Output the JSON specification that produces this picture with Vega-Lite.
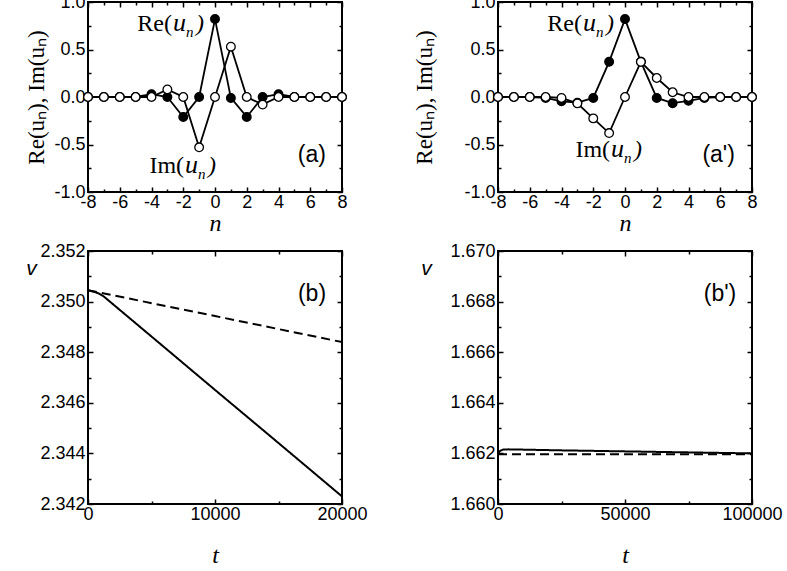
{
  "$schema": "https://vega.github.io/schema/vega-lite/v6.json",
  "autosize": "none",
  "padding": {"left": 88, "top": 2, "right": 699, "bottom": 569},
  "background": "white",
  "config": {
    "locale": {"number": {"decimal": ".", "thousands": ",", "grouping": [3], "currency": ["$", ""], "minus": "-"}},
    "view": {"stroke": "black", "strokeWidth": 2},
    "axis": {"domain": false, "grid": false, "tickColor": "black", "tickWidth": 1.5, "labelColor": "black", "labelFont": "Liberation Sans", "labelFontSize": 18, "titleColor": "black", "labelFlush": false, "labelOverlap": false},
    "text": {"color": "black"}
  },
  "spacing": {"row": 59, "column": 156},
  "bounds": "flush",
  "columns": 2,
  "datasets": {
    "a": [
      {"part": "Re", "n": -8, "value": 0}, {"part": "Re", "n": -7, "value": 0}, {"part": "Re", "n": -6, "value": 0}, {"part": "Re", "n": -5, "value": 0},
      {"part": "Re", "n": -4, "value": 0.03}, {"part": "Re", "n": -3, "value": 0}, {"part": "Re", "n": -2, "value": -0.21}, {"part": "Re", "n": -1, "value": 0},
      {"part": "Re", "n": 0, "value": 0.82}, {"part": "Re", "n": 1, "value": -0.01}, {"part": "Re", "n": 2, "value": -0.21}, {"part": "Re", "n": 3, "value": 0},
      {"part": "Re", "n": 4, "value": 0.03}, {"part": "Re", "n": 5, "value": 0}, {"part": "Re", "n": 6, "value": 0}, {"part": "Re", "n": 7, "value": 0}, {"part": "Re", "n": 8, "value": 0},
      {"part": "Im", "n": -8, "value": 0}, {"part": "Im", "n": -7, "value": 0}, {"part": "Im", "n": -6, "value": 0}, {"part": "Im", "n": -5, "value": 0},
      {"part": "Im", "n": -4, "value": 0}, {"part": "Im", "n": -3, "value": 0.08}, {"part": "Im", "n": -2, "value": 0}, {"part": "Im", "n": -1, "value": -0.53},
      {"part": "Im", "n": 0, "value": 0}, {"part": "Im", "n": 1, "value": 0.53}, {"part": "Im", "n": 2, "value": 0}, {"part": "Im", "n": 3, "value": -0.08},
      {"part": "Im", "n": 4, "value": 0}, {"part": "Im", "n": 5, "value": 0}, {"part": "Im", "n": 6, "value": 0}, {"part": "Im", "n": 7, "value": 0}, {"part": "Im", "n": 8, "value": 0}
    ],
    "ap": [
      {"part": "Re", "n": -8, "value": 0}, {"part": "Re", "n": -7, "value": 0}, {"part": "Re", "n": -6, "value": 0}, {"part": "Re", "n": -5, "value": -0.01},
      {"part": "Re", "n": -4, "value": -0.045}, {"part": "Re", "n": -3, "value": -0.06}, {"part": "Re", "n": -2, "value": -0.01}, {"part": "Re", "n": -1, "value": 0.37},
      {"part": "Re", "n": 0, "value": 0.82}, {"part": "Re", "n": 1, "value": 0.37}, {"part": "Re", "n": 2, "value": -0.01}, {"part": "Re", "n": 3, "value": -0.065},
      {"part": "Re", "n": 4, "value": -0.04}, {"part": "Re", "n": 5, "value": -0.01}, {"part": "Re", "n": 6, "value": 0}, {"part": "Re", "n": 7, "value": 0}, {"part": "Re", "n": 8, "value": 0},
      {"part": "Im", "n": -8, "value": 0}, {"part": "Im", "n": -7, "value": 0}, {"part": "Im", "n": -6, "value": 0}, {"part": "Im", "n": -5, "value": 0},
      {"part": "Im", "n": -4, "value": -0.01}, {"part": "Im", "n": -3, "value": -0.067}, {"part": "Im", "n": -2, "value": -0.225}, {"part": "Im", "n": -1, "value": -0.38},
      {"part": "Im", "n": 0, "value": 0}, {"part": "Im", "n": 1, "value": 0.37}, {"part": "Im", "n": 2, "value": 0.2}, {"part": "Im", "n": 3, "value": 0.05},
      {"part": "Im", "n": 4, "value": 0}, {"part": "Im", "n": 5, "value": 0}, {"part": "Im", "n": 6, "value": 0}, {"part": "Im", "n": 7, "value": 0}, {"part": "Im", "n": 8, "value": 0}
    ],
    "b": [
      {"style": "solid", "t": 0, "v": 2.35045}, {"style": "solid", "t": 400, "v": 2.3504}, {"style": "solid", "t": 800, "v": 2.35033}, {"style": "solid", "t": 1200, "v": 2.35022},
      {"style": "solid", "t": 5000, "v": 2.34862}, {"style": "solid", "t": 10000, "v": 2.34651}, {"style": "solid", "t": 15000, "v": 2.34441}, {"style": "solid", "t": 20000, "v": 2.3423},
      {"style": "dashed", "t": 0, "v": 2.35045}, {"style": "dashed", "t": 10000, "v": 2.34943}, {"style": "dashed", "t": 20000, "v": 2.3484}
    ],
    "bp": [
      {"style": "solid", "t": 0, "v": 1.662}, {"style": "solid", "t": 800, "v": 1.6621}, {"style": "solid", "t": 2000, "v": 1.66215}, {"style": "solid", "t": 4000, "v": 1.66216},
      {"style": "solid", "t": 25000, "v": 1.66212}, {"style": "solid", "t": 50000, "v": 1.66208}, {"style": "solid", "t": 75000, "v": 1.66204}, {"style": "solid", "t": 100000, "v": 1.662},
      {"style": "dashed", "t": 0, "v": 1.66197}, {"style": "dashed", "t": 50000, "v": 1.66197}, {"style": "dashed", "t": 100000, "v": 1.66197}
    ],
    "lab": [
      {"panel": "a", "pre": "Re(", "n": -2.71, "value": 0.7},
      {"panel": "a", "pre": "Im(", "n": -1.95, "value": -0.8},
      {"panel": "ap", "pre": "Re(", "n": -2.71, "value": 0.7},
      {"panel": "ap", "pre": "Im(", "n": -0.94, "value": -0.63}
    ],
    "plab": [
      {"panel": "a", "label": "(a)", "n": 6.1, "value": -0.61},
      {"panel": "ap", "label": "(a')", "n": 5.9, "value": -0.61}
    ],
    "blab": [
      {"panel": "b", "label": "(b)", "t": 17640, "v": 2.3503}
    ],
    "bplab": [
      {"panel": "bp", "label": "(b')", "t": 87400, "v": 1.6683}
    ]
  },
  "concat": [
    {
      "width": 254, "height": 190,
      "layer": [
        {"data": {"name": "a"}, "mark": {"type": "line", "color": "black", "strokeWidth": 1.8},
         "encoding": {
           "x": {"field": "n", "type": "quantitative", "scale": {"domain": [-8, 8], "nice": false, "zero": false},
                 "axis": {"orient": "bottom", "values": [-8,-7,-6,-5,-4,-3,-2,-1,0,1,2,3,4,5,6,7,8], "labelExpr": "datum.value % 2 === 0 ? datum.label : ''",
                          "tickSize": {"condition": {"test": "datum.value % 2 === 0", "value": -5}, "value": -3}, "labelPadding": 6,
                          "title": "n", "titleFont": "Liberation Serif", "titleFontStyle": "italic", "titleFontSize": 24, "titleFontWeight": "normal",
                          "titleX": 127, "titleY": 38, "titleAlign": "center", "titleBaseline": "alphabetic"}},
           "y": {"field": "value", "type": "quantitative", "scale": {"domain": [-1, 1], "nice": false},
                 "axis": {"orient": "left", "values": [-1,-0.75,-0.5,-0.25,0,0.25,0.5,0.75,1], "format": ".1f",
                          "labelExpr": "abs(datum.value*2 - round(datum.value*2)) < 0.000001 ? datum.label : ''",
                          "tickSize": {"condition": {"test": "abs(datum.value*2 - round(datum.value*2)) < 0.000001", "value": -5}, "value": -3}, "labelPadding": 8,
                          "title": "Re(uₙ), Im(uₙ)", "titleFont": "Liberation Serif", "titleFontSize": 23, "titleFontWeight": "normal",
                          "titleX": -52, "titleY": 95, "titleAngle": 270, "titleAlign": "center", "titleBaseline": "middle"}},
           "detail": {"field": "part"}}},
        {"data": {"name": "a"}, "mark": {"type": "point", "filled": true, "stroke": "black", "strokeWidth": 1.3, "size": 75, "opacity": 1},
         "encoding": {
           "x": {"field": "n", "type": "quantitative", "scale": {"domain": [-8, 8], "nice": false, "zero": false},
                 "axis": {"orient": "top", "values": [-8,-7,-6,-5,-4,-3,-2,-1,0,1,2,3,4,5,6,7,8], "labels": false, "title": null,
                          "tickSize": {"condition": {"test": "datum.value % 2 === 0", "value": -5}, "value": -3}}},
           "y": {"field": "value", "type": "quantitative", "scale": {"domain": [-1, 1], "nice": false},
                 "axis": {"orient": "right", "values": [-1,-0.75,-0.5,-0.25,0,0.25,0.5,0.75,1], "labels": false, "title": null,
                          "tickSize": {"condition": {"test": "abs(datum.value*2 - round(datum.value*2)) < 0.000001", "value": -5}, "value": -3}}},
           "fill": {"field": "part", "type": "nominal", "scale": {"domain": ["Re", "Im"], "range": ["black", "white"]}, "legend": null}}},
        {"data": {"name": "lab"}, "transform": [{"filter": {"field": "panel", "equal": "a"}}],
         "mark": {"type": "text", "align": "right", "baseline": "alphabetic", "font": "Liberation Serif", "fontSize": 24},
         "encoding": {"x": {"field": "n", "type": "quantitative", "scale": {"domain": [-8, 8], "nice": false, "zero": false}, "axis": null},
                      "y": {"field": "value", "type": "quantitative", "scale": {"domain": [-1, 1], "nice": false}, "axis": null},
                      "text": {"field": "pre"}}},
        {"data": {"name": "lab"}, "transform": [{"filter": {"field": "panel", "equal": "a"}}],
         "mark": {"type": "text", "align": "left", "baseline": "alphabetic", "font": "Liberation Serif", "fontStyle": "italic", "fontSize": 26, "dx": 1},
         "encoding": {"x": {"field": "n", "type": "quantitative", "scale": {"domain": [-8, 8], "nice": false, "zero": false}, "axis": null},
                      "y": {"field": "value", "type": "quantitative", "scale": {"domain": [-1, 1], "nice": false}, "axis": null},
                      "text": {"value": "u"}}},
        {"data": {"name": "lab"}, "transform": [{"filter": {"field": "panel", "equal": "a"}}],
         "mark": {"type": "text", "align": "left", "baseline": "alphabetic", "font": "Liberation Serif", "fontStyle": "italic", "fontSize": 15, "dx": 14, "dy": 6},
         "encoding": {"x": {"field": "n", "type": "quantitative", "scale": {"domain": [-8, 8], "nice": false, "zero": false}, "axis": null},
                      "y": {"field": "value", "type": "quantitative", "scale": {"domain": [-1, 1], "nice": false}, "axis": null},
                      "text": {"value": "n"}}},
        {"data": {"name": "lab"}, "transform": [{"filter": {"field": "panel", "equal": "a"}}],
         "mark": {"type": "text", "align": "left", "baseline": "alphabetic", "font": "Liberation Serif", "fontStyle": "italic", "fontSize": 24, "dx": 24},
         "encoding": {"x": {"field": "n", "type": "quantitative", "scale": {"domain": [-8, 8], "nice": false, "zero": false}, "axis": null},
                      "y": {"field": "value", "type": "quantitative", "scale": {"domain": [-1, 1], "nice": false}, "axis": null},
                      "text": {"value": ")"}}},
        {"data": {"name": "plab"}, "transform": [{"filter": {"field": "panel", "equal": "a"}}],
         "mark": {"type": "text", "align": "center", "baseline": "middle", "font": "Liberation Sans", "fontSize": 23},
         "encoding": {"x": {"field": "n", "type": "quantitative", "scale": {"domain": [-8, 8], "nice": false, "zero": false}, "axis": null},
                      "y": {"field": "value", "type": "quantitative", "scale": {"domain": [-1, 1], "nice": false}, "axis": null},
                      "text": {"field": "label"}}}
      ],
      "resolve": {"axis": {"x": "independent", "y": "independent"}}
    },
    {
      "width": 254, "height": 190,
      "layer": [
        {"data": {"name": "ap"}, "mark": {"type": "line", "color": "black", "strokeWidth": 1.8},
         "encoding": {
           "x": {"field": "n", "type": "quantitative", "scale": {"domain": [-8, 8], "nice": false, "zero": false},
                 "axis": {"orient": "bottom", "values": [-8,-7,-6,-5,-4,-3,-2,-1,0,1,2,3,4,5,6,7,8], "labelExpr": "datum.value % 2 === 0 ? datum.label : ''",
                          "tickSize": {"condition": {"test": "datum.value % 2 === 0", "value": -5}, "value": -3}, "labelPadding": 6,
                          "title": "n", "titleFont": "Liberation Serif", "titleFontStyle": "italic", "titleFontSize": 24, "titleFontWeight": "normal",
                          "titleX": 127, "titleY": 38, "titleAlign": "center", "titleBaseline": "alphabetic"}},
           "y": {"field": "value", "type": "quantitative", "scale": {"domain": [-1, 1], "nice": false},
                 "axis": {"orient": "left", "values": [-1,-0.75,-0.5,-0.25,0,0.25,0.5,0.75,1], "format": ".1f",
                          "labelExpr": "abs(datum.value*2 - round(datum.value*2)) < 0.000001 ? datum.label : ''",
                          "tickSize": {"condition": {"test": "abs(datum.value*2 - round(datum.value*2)) < 0.000001", "value": -5}, "value": -3}, "labelPadding": 8,
                          "title": "Re(uₙ), Im(uₙ)", "titleFont": "Liberation Serif", "titleFontSize": 23, "titleFontWeight": "normal",
                          "titleX": -74, "titleY": 95, "titleAngle": 270, "titleAlign": "center", "titleBaseline": "middle"}},
           "detail": {"field": "part"}}},
        {"data": {"name": "ap"}, "mark": {"type": "point", "filled": true, "stroke": "black", "strokeWidth": 1.3, "size": 75, "opacity": 1},
         "encoding": {
           "x": {"field": "n", "type": "quantitative", "scale": {"domain": [-8, 8], "nice": false, "zero": false},
                 "axis": {"orient": "top", "values": [-8,-7,-6,-5,-4,-3,-2,-1,0,1,2,3,4,5,6,7,8], "labels": false, "title": null,
                          "tickSize": {"condition": {"test": "datum.value % 2 === 0", "value": -5}, "value": -3}}},
           "y": {"field": "value", "type": "quantitative", "scale": {"domain": [-1, 1], "nice": false},
                 "axis": {"orient": "right", "values": [-1,-0.75,-0.5,-0.25,0,0.25,0.5,0.75,1], "labels": false, "title": null,
                          "tickSize": {"condition": {"test": "abs(datum.value*2 - round(datum.value*2)) < 0.000001", "value": -5}, "value": -3}}},
           "fill": {"field": "part", "type": "nominal", "scale": {"domain": ["Re", "Im"], "range": ["black", "white"]}, "legend": null}}},
        {"data": {"name": "lab"}, "transform": [{"filter": {"field": "panel", "equal": "ap"}}],
         "mark": {"type": "text", "align": "right", "baseline": "alphabetic", "font": "Liberation Serif", "fontSize": 24},
         "encoding": {"x": {"field": "n", "type": "quantitative", "scale": {"domain": [-8, 8], "nice": false, "zero": false}, "axis": null},
                      "y": {"field": "value", "type": "quantitative", "scale": {"domain": [-1, 1], "nice": false}, "axis": null},
                      "text": {"field": "pre"}}},
        {"data": {"name": "lab"}, "transform": [{"filter": {"field": "panel", "equal": "ap"}}],
         "mark": {"type": "text", "align": "left", "baseline": "alphabetic", "font": "Liberation Serif", "fontStyle": "italic", "fontSize": 26, "dx": 1},
         "encoding": {"x": {"field": "n", "type": "quantitative", "scale": {"domain": [-8, 8], "nice": false, "zero": false}, "axis": null},
                      "y": {"field": "value", "type": "quantitative", "scale": {"domain": [-1, 1], "nice": false}, "axis": null},
                      "text": {"value": "u"}}},
        {"data": {"name": "lab"}, "transform": [{"filter": {"field": "panel", "equal": "ap"}}],
         "mark": {"type": "text", "align": "left", "baseline": "alphabetic", "font": "Liberation Serif", "fontStyle": "italic", "fontSize": 15, "dx": 14, "dy": 6},
         "encoding": {"x": {"field": "n", "type": "quantitative", "scale": {"domain": [-8, 8], "nice": false, "zero": false}, "axis": null},
                      "y": {"field": "value", "type": "quantitative", "scale": {"domain": [-1, 1], "nice": false}, "axis": null},
                      "text": {"value": "n"}}},
        {"data": {"name": "lab"}, "transform": [{"filter": {"field": "panel", "equal": "ap"}}],
         "mark": {"type": "text", "align": "left", "baseline": "alphabetic", "font": "Liberation Serif", "fontStyle": "italic", "fontSize": 24, "dx": 24},
         "encoding": {"x": {"field": "n", "type": "quantitative", "scale": {"domain": [-8, 8], "nice": false, "zero": false}, "axis": null},
                      "y": {"field": "value", "type": "quantitative", "scale": {"domain": [-1, 1], "nice": false}, "axis": null},
                      "text": {"value": ")"}}},
        {"data": {"name": "plab"}, "transform": [{"filter": {"field": "panel", "equal": "ap"}}],
         "mark": {"type": "text", "align": "center", "baseline": "middle", "font": "Liberation Sans", "fontSize": 23},
         "encoding": {"x": {"field": "n", "type": "quantitative", "scale": {"domain": [-8, 8], "nice": false, "zero": false}, "axis": null},
                      "y": {"field": "value", "type": "quantitative", "scale": {"domain": [-1, 1], "nice": false}, "axis": null},
                      "text": {"field": "label"}}}
      ],
      "resolve": {"axis": {"x": "independent", "y": "independent"}}
    },
    {
      "width": 254, "height": 253,
      "layer": [
        {"data": {"name": "b"}, "mark": {"type": "line", "color": "black", "strokeWidth": 2},
         "encoding": {
           "x": {"field": "t", "type": "quantitative", "scale": {"domain": [0, 20000], "nice": false, "zero": false},
                 "axis": {"orient": "bottom", "values": [0, 5000, 10000, 15000, 20000], "format": "d", "labelExpr": "datum.value % 10000 === 0 ? datum.label : ''",
                          "tickSize": {"condition": {"test": "datum.value % 10000 === 0", "value": -5}, "value": -3}, "labelPadding": 6,
                          "title": "t", "titleFont": "Liberation Serif", "titleFontStyle": "italic", "titleFontSize": 24, "titleFontWeight": "normal",
                          "titleX": 127, "titleY": 58, "titleAlign": "center", "titleBaseline": "alphabetic"}},
           "y": {"field": "v", "type": "quantitative", "scale": {"domain": [2.342, 2.352], "nice": false, "zero": false},
                 "axis": {"orient": "left", "values": [2.342, 2.343, 2.344, 2.345, 2.346, 2.347, 2.348, 2.349, 2.35, 2.351, 2.352], "format": ".3f",
                          "labelExpr": "round(datum.value*1000) % 2 === 0 ? datum.label : ''",
                          "tickSize": {"condition": {"test": "round(datum.value*1000) % 2 === 0", "value": -5}, "value": -3}, "labelPadding": 8,
                          "title": "v", "titleFont": "Liberation Sans", "titleFontStyle": "italic", "titleFontSize": 21, "titleFontWeight": "normal",
                          "titleX": -57, "titleY": 17, "titleAngle": 0, "titleAlign": "center", "titleBaseline": "middle"}},
           "strokeDash": {"field": "style", "type": "nominal", "scale": {"domain": ["solid", "dashed"], "range": [[1, 0], [9, 5]]}, "legend": null}}},
        {"data": {"name": "blab"}, "mark": {"type": "text", "align": "center", "baseline": "middle", "font": "Liberation Sans", "fontSize": 23},
         "encoding": {
           "x": {"field": "t", "type": "quantitative", "scale": {"domain": [0, 20000], "nice": false, "zero": false},
                 "axis": {"orient": "top", "values": [0, 5000, 10000, 15000, 20000], "labels": false, "title": null,
                          "tickSize": {"condition": {"test": "datum.value % 10000 === 0", "value": -5}, "value": -3}}},
           "y": {"field": "v", "type": "quantitative", "scale": {"domain": [2.342, 2.352], "nice": false, "zero": false},
                 "axis": {"orient": "right", "values": [2.342, 2.343, 2.344, 2.345, 2.346, 2.347, 2.348, 2.349, 2.35, 2.351, 2.352], "labels": false, "title": null,
                          "tickSize": {"condition": {"test": "round(datum.value*1000) % 2 === 0", "value": -5}, "value": -3}}},
           "text": {"field": "label"}}}
      ],
      "resolve": {"axis": {"x": "independent", "y": "independent"}}
    },
    {
      "width": 254, "height": 253,
      "layer": [
        {"data": {"name": "bp"}, "mark": {"type": "line", "color": "black", "strokeWidth": 2},
         "encoding": {
           "x": {"field": "t", "type": "quantitative", "scale": {"domain": [0, 100000], "nice": false, "zero": false},
                 "axis": {"orient": "bottom", "values": [0, 25000, 50000, 75000, 100000], "format": "d", "labelExpr": "datum.value % 50000 === 0 ? datum.label : ''",
                          "tickSize": {"condition": {"test": "datum.value % 50000 === 0", "value": -5}, "value": -3}, "labelPadding": 6,
                          "title": "t", "titleFont": "Liberation Serif", "titleFontStyle": "italic", "titleFontSize": 24, "titleFontWeight": "normal",
                          "titleX": 127, "titleY": 58, "titleAlign": "center", "titleBaseline": "alphabetic"}},
           "y": {"field": "v", "type": "quantitative", "scale": {"domain": [1.66, 1.67], "nice": false, "zero": false},
                 "axis": {"orient": "left", "values": [1.66, 1.661, 1.662, 1.663, 1.664, 1.665, 1.666, 1.667, 1.668, 1.669, 1.67], "format": ".3f",
                          "labelExpr": "round(datum.value*1000) % 2 === 0 ? datum.label : ''",
                          "tickSize": {"condition": {"test": "round(datum.value*1000) % 2 === 0", "value": -5}, "value": -3}, "labelPadding": 8,
                          "title": "v", "titleFont": "Liberation Sans", "titleFontStyle": "italic", "titleFontSize": 21, "titleFontWeight": "normal",
                          "titleX": -72, "titleY": 17, "titleAngle": 0, "titleAlign": "center", "titleBaseline": "middle"}},
           "strokeDash": {"field": "style", "type": "nominal", "scale": {"domain": ["solid", "dashed"], "range": [[1, 0], [9, 5]]}, "legend": null}}},
        {"data": {"name": "bplab"}, "mark": {"type": "text", "align": "center", "baseline": "middle", "font": "Liberation Sans", "fontSize": 23},
         "encoding": {
           "x": {"field": "t", "type": "quantitative", "scale": {"domain": [0, 100000], "nice": false, "zero": false},
                 "axis": {"orient": "top", "values": [0, 25000, 50000, 75000, 100000], "labels": false, "title": null,
                          "tickSize": {"condition": {"test": "datum.value % 50000 === 0", "value": -5}, "value": -3}}},
           "y": {"field": "v", "type": "quantitative", "scale": {"domain": [1.66, 1.67], "nice": false, "zero": false},
                 "axis": {"orient": "right", "values": [1.66, 1.661, 1.662, 1.663, 1.664, 1.665, 1.666, 1.667, 1.668, 1.669, 1.67], "labels": false, "title": null,
                          "tickSize": {"condition": {"test": "round(datum.value*1000) % 2 === 0", "value": -5}, "value": -3}}},
           "text": {"field": "label"}}}
      ],
      "resolve": {"axis": {"x": "independent", "y": "independent"}}
    }
  ]
}
